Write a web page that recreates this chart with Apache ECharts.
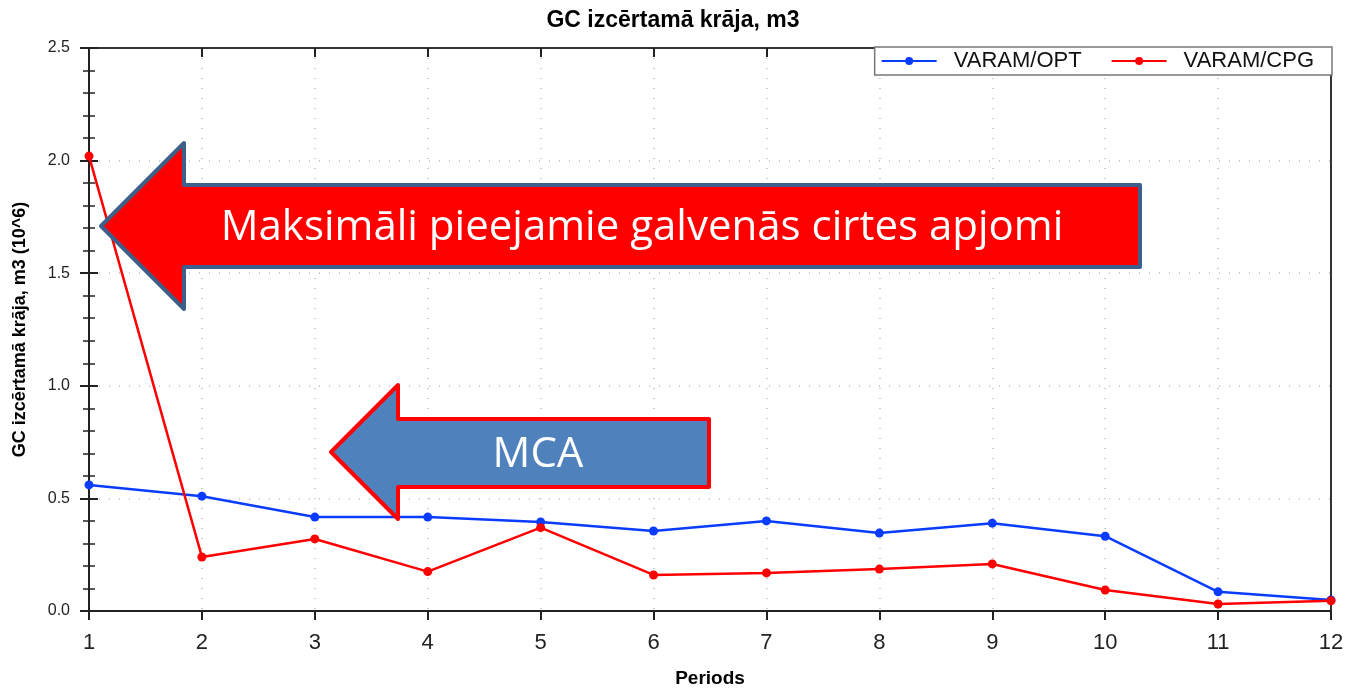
<!DOCTYPE html>
<html>
<head>
<meta charset="utf-8">
<script src="https://cdn.jsdelivr.net/npm/echarts@6/dist/echarts.min.js"></script>
<style>
  html, body { margin: 0; padding: 0; background: #fff; }
  #main { width: 1346px; height: 688px; }
</style>
</head>
<body>
<div id="main"></div>
<script>
var periods = ['1', '2', '3', '4', '5', '6', '7', '8', '9', '10', '11', '12'];
var optValues = [0.56, 0.51, 0.417, 0.417, 0.395, 0.355, 0.40, 0.346, 0.39, 0.332, 0.085, 0.049];
var cpgValues = [2.02, 0.24, 0.32, 0.175, 0.37, 0.16, 0.169, 0.186, 0.209, 0.093, 0.031, 0.045];
var seriesNames = ['VARAM/OPT', 'VARAM/CPG'];

var myChart = echarts.init(document.getElementById('main'));

var axisFont = 'Liberation Sans, Arial, sans-serif';
var noteFont = 'Open Sans, Noto Sans, sans-serif';
var dotGrid = { show: true, lineStyle: { color: '#bbb', type: [1, 9], width: 1.5 } };

var option = {
	backgroundColor: '#fff',
	animation: false,
	title: {
		text: 'GC izcērtamā krāja, m3',
		left: 'center',
		top: 4,
		textStyle: { color: '#000', fontSize: 23, fontWeight: 'bold', fontFamily: axisFont }
	},
	legend: {
		data: seriesNames,
		right: 14,
		top: 47,
		padding: [3, 18, 3, 6],
		itemGap: 29,
		itemWidth: 55,
		itemHeight: 10,
		borderColor: '#777',
		borderWidth: 1.5,
		borderRadius: 0,
		backgroundColor: '#fff',
		textStyle: { color: '#111', fontSize: 22, fontFamily: axisFont, padding: [0, 0, 0, 12] }
	},
	grid: {
		left: 89,
		right: 15,
		top: 48,
		bottom: 77,
		outerBoundsMode: 'none',
		containLabel: false
	},
	xAxis: [{
		type: 'category',
		data: periods,
		boundaryGap: false,
		name: 'Periods',
		nameLocation: 'middle',
		nameGap: 58,
		nameTextStyle: { color: '#000', fontSize: 19, fontWeight: 'bold', fontFamily: axisFont },
		axisLine: { onZero: false, lineStyle: { color: '#222', width: 2 } },
		axisTick: { show: true, length: 9, lineStyle: { color: '#222', width: 2 } },
		axisLabel: { color: '#222', fontSize: 22, margin: 21, fontFamily: axisFont },
		splitLine: dotGrid
	}, {
		type: 'category',
		data: periods,
		boundaryGap: false,
		position: 'top',
		axisLine: { onZero: false, lineStyle: { color: '#333', width: 2 } },
		axisTick: { show: true, inside: true, length: 9, lineStyle: { color: '#222', width: 2 } },
		axisLabel: { show: false },
		splitLine: { show: false }
	}],
	yAxis: [{
		type: 'value',
		min: 0,
		max: 2.5,
		interval: 0.5,
		name: 'GC izcērtamā krāja, m3 (10^6)',
		nameLocation: 'middle',
		nameGap: 60,
		nameTextStyle: { color: '#000', fontSize: 18, fontWeight: 'bold', fontFamily: axisFont },
		axisLine: { show: true, onZero: false, lineStyle: { color: '#222', width: 2 } },
		axisTick: { show: true, length: 9, lineStyle: { color: '#222', width: 2 } },
		minorTick: { show: true, splitNumber: 5, length: 6, lineStyle: { color: '#222', width: 1.5 } },
		axisLabel: {
			color: '#222', fontSize: 16, margin: 19, fontFamily: axisFont,
			formatter: function (v) { return v.toFixed(1); }
		},
		splitLine: dotGrid
	}, {
		type: 'value',
		min: 0,
		max: 2.5,
		interval: 0.5,
		position: 'left',
		axisLine: { show: false },
		axisTick: { show: true, inside: true, length: 9, lineStyle: { color: '#222', width: 2 } },
		minorTick: { show: true, splitNumber: 5, length: 6, lineStyle: { color: '#222', width: 1.5 } },
		axisLabel: { show: false },
		splitLine: { show: false }
	}, {
		type: 'value',
		min: 0,
		max: 2.5,
		interval: 0.5,
		position: 'right',
		axisLine: { show: true, onZero: false, lineStyle: { color: '#333', width: 2 } },
		axisTick: { show: false },
		axisLabel: { show: false },
		splitLine: { show: false }
	}],
	series: [{
		name: seriesNames[0],
		type: 'line',
		data: optValues,
		symbol: 'circle',
		symbolSize: 9,
		color: '#0a3cff',
		lineStyle: { width: 2.5, color: '#0a3cff' },
		z: 3
	}, {
		name: seriesNames[1],
		type: 'line',
		data: cpgValues,
		symbol: 'circle',
		symbolSize: 9,
		color: '#ff0000',
		lineStyle: { width: 2.5, color: '#ff0000' },
		z: 4
	}],
	graphic: [{
		type: 'polygon',
		z: 100,
		shape: {
			points: [[101, 226], [184, 143], [184, 185], [1140, 185], [1140, 267], [184, 267], [184, 309]]
		},
		style: { fill: '#ff0000', stroke: '#3c5f8c', lineWidth: 4, lineJoin: 'round' }
	}, {
		type: 'text',
		z: 101,
		x: 642,
		y: 228,
		style: {
			text: 'Maksimāli pieejamie galvenās cirtes apjomi',
			fill: '#fff',
			font: '42px ' + noteFont,
			align: 'center',
			verticalAlign: 'middle'
		}
	}, {
		type: 'polygon',
		z: 100,
		shape: {
			points: [[331, 452], [398, 385], [398, 419], [709, 419], [709, 487], [398, 487], [398, 519]]
		},
		style: { fill: '#4f81bd', stroke: '#ff0000', lineWidth: 4, lineJoin: 'round' }
	}, {
		type: 'text',
		z: 101,
		x: 538,
		y: 455,
		style: {
			text: 'MCA',
			fill: '#fff',
			font: '42px ' + noteFont,
			align: 'center',
			verticalAlign: 'middle'
		}
	}]
};

myChart.setOption(option);
</script>
</body>
</html>
